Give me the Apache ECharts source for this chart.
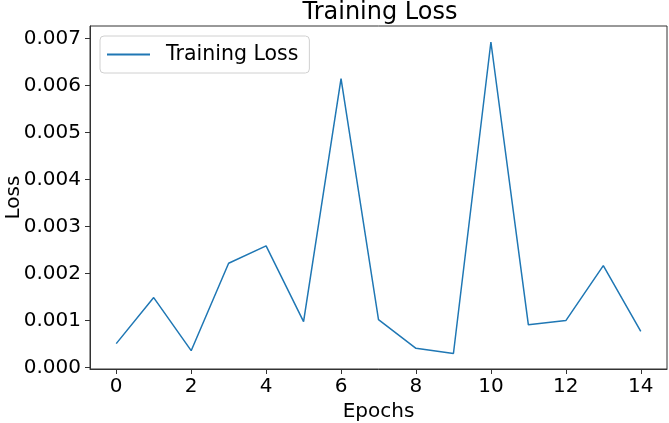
<!DOCTYPE html>
<html>
<head>
<meta charset="utf-8">
<script src="https://cdn.jsdelivr.net/npm/echarts@6/dist/echarts.min.js"></script>
<style>
  html, body { margin: 0; padding: 0; background: #fff; }
  #chart { width: 669px; height: 423px; }
</style>
</head>
<body>
<div id="chart"></div>
<script>
// data
const epochs = [0, 1, 2, 3, 4, 5, 6, 7, 8, 9, 10, 11, 12, 13, 14];
const trainingLoss = [0.00051, 0.00149, 0.00036, 0.00222, 0.00259, 0.00098, 0.00615, 0.00102, 0.00041, 0.00030, 0.00693, 0.00091, 0.00100, 0.00217, 0.00077];
const xTicks = [0, 2, 4, 6, 8, 10, 12, 14];
const yTicks = [0, 0.001, 0.002, 0.003, 0.004, 0.005, 0.006, 0.007];

const font = 'DejaVu Sans';
const chart = echarts.init(document.getElementById('chart'));

chart.setOption({
  animation: false,
  title: {
    text: 'Training Loss',
    left: 375,
    textAlign: 'center',
    top: -4,
    textStyle: { fontFamily: font, fontSize: 24, fontWeight: 'normal', color: '#000' }
  },
  legend: {
    left: 100,
    top: 36,
    padding: [8, 11, 8, 7],
    borderColor: '#d0d0d0',
    borderWidth: 1,
    borderRadius: 4,
    itemWidth: 43,
    itemHeight: 2,
    icon: 'rect',
    textStyle: { fontFamily: font, fontSize: 20.5, color: '#000', padding: [0, 0, 0, 11] },
    data: ['Training Loss']
  },
  grid: {
    left: 90, right: 2, top: 26, bottom: 54,
    outerBoundsMode: 'none',
    show: true, borderColor: '#333', borderWidth: 1
  },
  xAxis: {
    type: 'value',
    min: -0.7,
    max: 14.7,
    name: 'Epochs',
    nameLocation: 'middle',
    nameGap: 33,
    nameMoveOverlap: false,
    nameTextStyle: { fontFamily: font, fontSize: 20, color: '#000' },
    axisLine: { show: true, onZero: false, lineStyle: { color: '#333' } },
    axisTick: { show: true, length: 5, customValues: xTicks, lineStyle: { color: '#333' } },
    axisLabel: { customValues: xTicks, fontFamily: font, fontSize: 20, color: '#000', margin: 8 },
    splitLine: { show: false }
  },
  yAxis: {
    type: 'value',
    min: -0.00003,
    max: 0.00727,
    name: 'Loss',
    nameLocation: 'middle',
    nameGap: 66,
    nameMoveOverlap: false,
    nameTextStyle: { fontFamily: font, fontSize: 20, color: '#000' },
    axisLine: { show: true, onZero: false, lineStyle: { color: '#333' } },
    axisTick: { show: true, length: 5, customValues: yTicks, lineStyle: { color: '#333' } },
    axisLabel: {
      customValues: yTicks, fontFamily: font, fontSize: 20, color: '#000', margin: 9,
      formatter: v => v.toFixed(3)
    },
    splitLine: { show: false }
  },
  series: [{
    name: 'Training Loss',
    type: 'line',
    data: epochs.map((e, i) => [e, trainingLoss[i]]),
    symbol: 'none',
    color: '#1f77b4',
    lineStyle: { width: 1.5, color: '#1f77b4' }
  }]
});
</script>
</body>
</html>
